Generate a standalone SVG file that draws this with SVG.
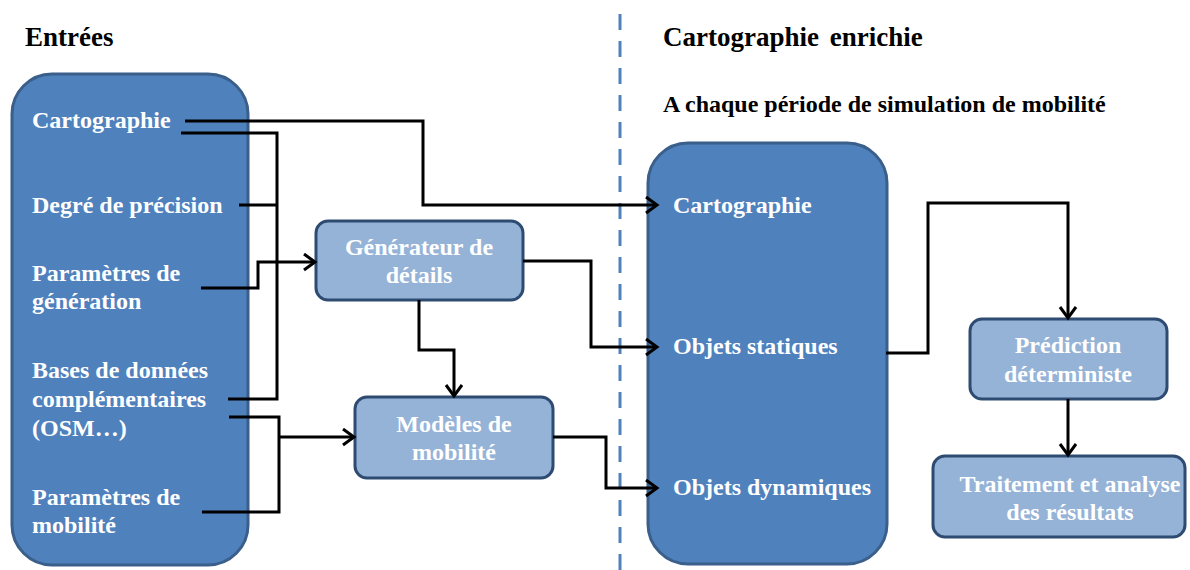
<svg xmlns="http://www.w3.org/2000/svg" width="1190" height="570" viewBox="0 0 1190 570">
<style>
.big{fill:#4F81BD;stroke:#3A5F8B;stroke-width:3}
.small{fill:#95B3D7;stroke:#2E4B72;stroke-width:3}
.wt{font-family:"Liberation Serif","Times New Roman",serif;font-weight:bold;font-size:24px;fill:#FFFFFF}
.ct{text-anchor:middle}
.hd{font-family:"Liberation Serif","Times New Roman",serif;font-weight:bold;fill:#000000}
.cn{fill:none;stroke:#000000;stroke-width:3}
</style>
<defs>
<marker id="arr" markerWidth="18" markerHeight="20" refX="14" refY="9" orient="auto" markerUnits="userSpaceOnUse">
<path d="M3,1 L14,9 L3,17" fill="none" stroke="#000000" stroke-width="3"/>
</marker>
</defs>
<rect width="1190" height="570" fill="#FFFFFF"/>
<g id="separator">
<line x1="620" y1="14" x2="620" y2="570" stroke="#4F81BD" stroke-width="3" stroke-dasharray="16 11"/>
</g>
<g id="headers">
<text class="hd" x="25" y="46" font-size="27">Entrées</text>
<text class="hd" x="663" y="46" font-size="27" word-spacing="4">Cartographie enrichie</text>
<text class="hd" x="663" y="112" font-size="24">A chaque période de simulation de mobilité</text>
</g>
<g id="entrees">
<rect class="big" x="12" y="74" width="236" height="491" rx="40"/>
<text class="wt" x="32" y="128">Cartographie</text>
<text class="wt" x="32" y="213">Degré de précision</text>
<text class="wt" x="32" y="281">Paramètres de</text>
<text class="wt" x="32" y="309">génération</text>
<text class="wt" x="32" y="378">Bases de données</text>
<text class="wt" x="32" y="407">complémentaires</text>
<text class="wt" x="32" y="436">(OSM…)</text>
<text class="wt" x="32" y="505">Paramètres de</text>
<text class="wt" x="32" y="533">mobilité</text>
</g>
<g id="carto-enrichie">
<rect class="big" x="648" y="143" width="239" height="421" rx="40"/>
<text class="wt" x="673" y="213">Cartographie</text>
<text class="wt" x="673" y="354">Objets statiques</text>
<text class="wt" x="673" y="495">Objets dynamiques</text>
</g>
<g id="generateur">
<rect class="small" x="316" y="221" width="207" height="79" rx="12"/>
<text class="wt ct" x="419" y="255">Générateur de</text>
<text class="wt ct" x="419" y="283">détails</text>
</g>
<g id="modeles">
<rect class="small" x="355" y="397" width="198" height="81" rx="12"/>
<text class="wt ct" x="454" y="432">Modèles de</text>
<text class="wt ct" x="454" y="460">mobilité</text>
</g>
<g id="prediction">
<rect class="small" x="970" y="319" width="197" height="80" rx="12"/>
<text class="wt ct" x="1068" y="353">Prédiction</text>
<text class="wt ct" x="1068" y="382">déterministe</text>
</g>
<g id="traitement">
<rect class="small" x="933" y="456" width="252" height="81" rx="12"/>
<text class="wt ct" x="1070" y="492">Traitement et analyse</text>
<text class="wt ct" x="1070" y="520">des résultats</text>
</g>
<g id="connectors">
<path class="cn" d="M185,121 H423 V205 H657" marker-end="url(#arr)"/>
<path class="cn" d="M181,133 H277 V399 H228"/>
<path class="cn" d="M239,205 H277"/>
<path class="cn" d="M201,288 H258 V262 H315" marker-end="url(#arr)"/>
<path class="cn" d="M523,261 H591 V347 H657" marker-end="url(#arr)"/>
<path class="cn" d="M419,300 V350 H454 V396" marker-end="url(#arr)"/>
<path class="cn" d="M229,417 H279 V512 H202"/>
<path class="cn" d="M279,437 H354" marker-end="url(#arr)"/>
<path class="cn" d="M553,437 H606 V488 H657" marker-end="url(#arr)"/>
<path class="cn" d="M886,353 H928 V203 H1068 V318" marker-end="url(#arr)"/>
<path class="cn" d="M1068,399 V455" marker-end="url(#arr)"/>
</g>
</svg>
